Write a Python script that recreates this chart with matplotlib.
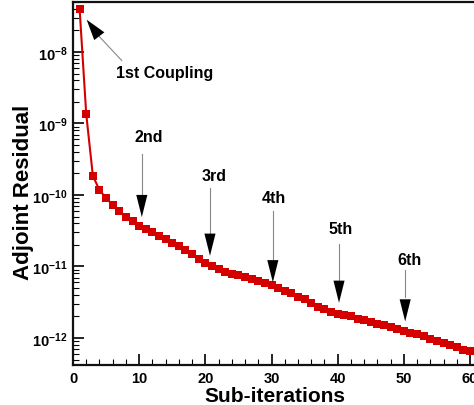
import math
import matplotlib
matplotlib.use("Agg")
import matplotlib.pyplot as plt
from matplotlib.ticker import LogLocator, MultipleLocator, FuncFormatter

plt.rcParams['font.family'] = ['Liberation Sans', 'DejaVu Sans']
plt.rcParams['font.weight'] = 'bold'
plt.rcParams['mathtext.fontset'] = 'custom'
plt.rcParams['mathtext.rm'] = 'Liberation Sans:bold'
plt.rcParams['mathtext.bf'] = 'Liberation Sans:bold'
plt.rcParams['mathtext.it'] = 'Liberation Sans:bold'

# ---- data ----
sub_iterations = list(range(1, 61))
adjoint_residual = [
    3.98e-8, 1.35e-9, 1.86e-10, 1.17e-10, 9.1e-11, 7.2e-11, 5.9e-11, 4.9e-11, 4.27e-11, 3.72e-11,
    3.31e-11, 3.02e-11, 2.69e-11, 2.40e-11, 2.14e-11, 1.91e-11, 1.70e-11, 1.48e-11, 1.29e-11, 1.12e-11,
    1.00e-11, 9.1e-12, 8.5e-12, 7.9e-12, 7.6e-12, 7.1e-12, 6.6e-12, 6.3e-12, 5.9e-12, 5.5e-12,
    5.0e-12, 4.6e-12, 4.2e-12, 3.8e-12, 3.47e-12, 3.09e-12, 2.75e-12, 2.51e-12, 2.34e-12, 2.19e-12,
    2.09e-12, 2.00e-12, 1.86e-12, 1.78e-12, 1.70e-12, 1.58e-12, 1.51e-12, 1.41e-12, 1.35e-12, 1.26e-12,
    1.17e-12, 1.12e-12, 1.05e-12, 9.8e-13, 9.1e-13, 8.5e-13, 7.9e-13, 7.4e-13, 6.9e-13, 6.5e-13,
]
coupling_labels = ["2nd", "3rd", "4th", "5th", "6th"]

# ---- layout of annotations (x, text y, line top, head base, tip) ----
arrow_x = [10.4, 20.7, 30.2, 40.2, 50.2]
text_xy = [(11.4, 6.5e-10), (21.3, 1.9e-10), (30.3, 9.1e-11), (40.4, 3.35e-11), (50.8, 1.27e-11)]
line_top = [3.7e-10, 1.24e-10, 6.0e-11, 2.07e-11, 8.9e-12]
head_base = [9.8e-11, 2.95e-11, 1.27e-11, 6.5e-12, 3.7e-12]
head_tip = [4.9e-11, 1.41e-11, 6.0e-12, 3.1e-12, 1.7e-12]

fig = plt.figure(figsize=(4.74, 4.06), dpi=100)
ax = fig.add_axes([73/474, 40/406, 1 - 73/474, 363/406])

ax.plot(sub_iterations, adjoint_residual, color='#d40000', lw=1.5, marker='s',
        markersize=5.4, markeredgewidth=0, zorder=3)

ax.set_yscale('log')
ax.set_xlim(0, 60.6)
ax.set_ylim(4.19e-13, 5.0e-8)

ax.xaxis.set_major_locator(MultipleLocator(10))
ax.xaxis.set_minor_locator(MultipleLocator(2))
ax.yaxis.set_major_locator(LogLocator(base=10, numticks=20))
ax.yaxis.set_minor_locator(LogLocator(base=10, subs=range(2, 10), numticks=50))


def fmt(v, pos):
    e = int(round(math.log10(v)))
    return r'$\mathregular{10^{%d}}$' % e


ax.yaxis.set_major_formatter(FuncFormatter(fmt))

ax.tick_params(axis='both', which='major', direction='in', length=8, width=1.2,
               labelsize=10.5, top=False, right=False)
ax.tick_params(axis='both', which='minor', direction='in', length=4.5, width=0.8,
               top=False, right=False)
ax.tick_params(axis='x', pad=4)
ax.tick_params(axis='y', pad=4)
for lab in ax.get_xticklabels() + ax.get_yticklabels():
    lab.set_fontweight('bold')

for s in ['left', 'bottom', 'top']:
    ax.spines[s].set_linewidth(1.6)
    ax.spines[s].set_color('#111111')
ax.spines['right'].set_visible(False)

ax.set_xlabel('Sub-iterations', fontsize=15, fontweight='bold')
ax.xaxis.set_label_coords((275 - 73) / 401, -0.058)
ax.set_ylabel('Adjoint Residual', fontsize=16, fontweight='bold')
ax.yaxis.set_label_coords(-0.098, 0.479)

# coupling arrows
for i, lab in enumerate(coupling_labels):
    x = arrow_x[i]
    ax.text(text_xy[i][0], text_xy[i][1], lab, ha='center', va='center',
            fontsize=11.5, fontweight='bold')
    ax.plot([x, x], [line_top[i], head_base[i]], color='#888888', lw=0.8, zorder=4)
    ax.annotate('', xy=(x, head_tip[i]), xytext=(x, head_base[i]),
                arrowprops=dict(arrowstyle='-|>,head_length=16,head_width=4',
                                mutation_scale=1, color='black', lw=0,
                                shrinkA=0, shrinkB=0), zorder=5)

# first coupling
ax.text(13.85, 5.2e-9, '1st Coupling', ha='center', va='center',
        fontsize=11.5, fontweight='bold')
ax.plot([7.36, 3.7], [7.6e-9, 1.75e-8], color='#888888', lw=0.8, zorder=4)
ax.annotate('', xy=(2.06, 2.83e-8), xytext=(4.0, 1.65e-8),
            arrowprops=dict(arrowstyle='-|>,head_length=15,head_width=4.6',
                            mutation_scale=1, color='black', lw=0,
                            shrinkA=0, shrinkB=0), zorder=5)

fig.savefig('out.png', dpi=100)
